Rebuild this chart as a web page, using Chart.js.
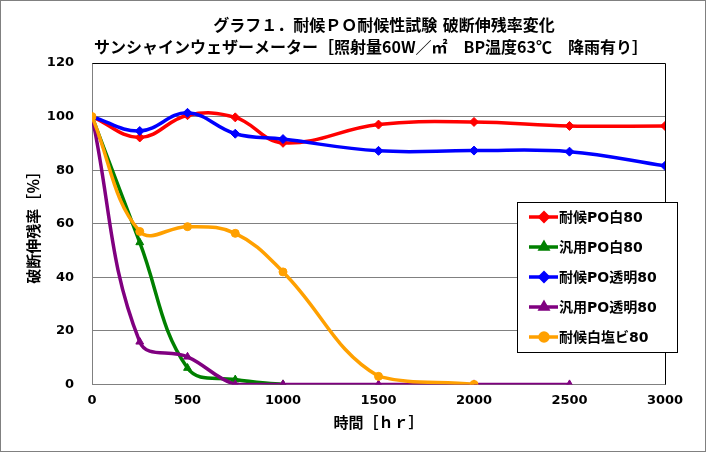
<!DOCTYPE html>
<html>
<head>
<meta charset="utf-8">
<script src="https://cdn.jsdelivr.net/npm/chart.js@4.4.0/dist/chart.umd.min.js"></script>
<style>
  html, body { margin: 0; padding: 0; background: #fff; }
  #wrap { width: 706px; height: 452px; position: relative; }
</style>
</head>
<body>
<div id="wrap"><canvas id="grafico" width="706" height="452"></canvas></div>
<script>
// dados
const horas = [0, 250, 500, 750, 1000, 1500, 2000, 2500, 3000];
const ticksY = [0, 20, 40, 60, 80, 100, 120];

const titulo1 = 'グラフ１．耐候ＰＯ耐候性試験 破断伸残率変化';
const titulo2 = 'サンシャインウェザーメーター［照射量60W／㎡　BP温度63℃　降雨有り］';

const nomes = ['耐候PO白80', '汎用PO白80', '耐候PO透明80', '汎用PO透明80', '耐候白塩ビ80'];
const cores = ['#ff0000', '#008000', '#0000ff', '#800080', '#ffa000'];
const marcadores = ['rectRot', 'triangle', 'rectRot', 'triangle', 'circle'];

const taiPoShiro = [100, 92.2, 100.5, 99.7, 90.2, 97.0, 98.0, 96.5, 96.5];
const hanPoShiro = [100, 53.0, 6.1, 1.8, 0];
const taiPoTomei = [100, 94.6, 101.4, 93.6, 91.6, 87.2, 87.3, 86.9, 81.6];
const hanPoTomei = [100, 15.9, 10.3, 0, 0, 0, 0, 0];
const taiEnbi = [100, 57.1, 58.9, 56.4, 42.0, 3.0, 0];

const series = [taiPoShiro, hanPoShiro, taiPoTomei, hanPoTomei, taiEnbi];

const fonte = '"DejaVu Sans", "Noto Sans CJK JP", sans-serif';
const fonteJp = '"Noto Sans CJK JP", "DejaVu Sans", sans-serif';

// =========================================
// plugin: título, molduras, legenda interna
// =========================================
const molduras = {
    id: 'molduras',
    beforeDraw(chart) {
        const c = chart.ctx;
        c.save();
        c.fillStyle = '#fff';
        c.fillRect(0, 0, chart.width, chart.height);
        c.restore();
    },
    afterDraw(chart) {
        const c = chart.ctx;
        const a = chart.chartArea;
        c.save();
        // título em duas linhas
        c.fillStyle = '#000';
        c.textAlign = 'center';
        c.textBaseline = 'middle';
        c.font = 'bold 16px ' + fonte;
        c.fillText(titulo1, 384, 27);
        c.font = 'bold 16px ' + fonteJp;
        c.fillText(titulo2, 371, 47);

        // linhas pretas topo / direita
        c.strokeStyle = '#000';
        c.lineWidth = 1;
        c.beginPath();
        c.moveTo(Math.round(a.left) + 0.5, Math.round(a.top) + 0.5);
        c.lineTo(Math.round(a.right) + 0.5, Math.round(a.top) + 0.5);
        c.lineTo(Math.round(a.right) + 0.5, Math.round(a.bottom) + 0.5);
        c.stroke();

        // legenda
        const lx = 517, ly = 202, lw = 160, lh = 150;
        c.fillStyle = '#fff';
        c.fillRect(lx, ly, lw, lh);
        c.strokeStyle = '#000';
        c.strokeRect(lx + 0.5, ly + 0.5, lw, lh);
        c.font = 'bold 14px ' + fonte;
        c.textAlign = 'left';
        nomes.forEach((nome, i) => {
            const y = ly + 15 + i * 30;
            c.strokeStyle = cores[i];
            c.lineWidth = 3.5;
            c.beginPath();
            c.moveTo(lx + 12, y);
            c.lineTo(lx + 41, y);
            c.stroke();
            Chart.helpers.drawPoint(c, {
                pointStyle: marcadores[i], radius: 4, rotation: 0, borderWidth: 1
            }, lx + 27, y);
            c.fillStyle = cores[i];
            c.fill();
            c.fillStyle = '#000';
            c.fillText(nome, lx + 42, y + 1);
        });

        // moldura exterior
        c.strokeStyle = '#808080';
        c.lineWidth = 1;
        c.strokeRect(0.5, 0.5, chart.width - 1, chart.height - 1);
        c.restore();
    }
};

const ctx = document.getElementById('grafico').getContext('2d');

const grafico = new Chart(ctx, {
    type: 'line',
    data: {
        datasets: series.map((valores, i) => ({
            label: nomes[i],
            data: valores.map((v, k) => ({ x: horas[k], y: v })),
            borderColor: cores[i],
            backgroundColor: cores[i],
            borderWidth: 3.5,
            pointStyle: marcadores[i],
            pointRadius: marcadores[i] === 'circle' ? 4 : 4.5,
            pointBorderWidth: 1,
            tension: 0.4,
            fill: false
        })).reverse()
    },
    options: {
        responsive: false,
        animation: false,
        layout: { padding: { left: 6, right: 41, top: 63, bottom: 24 } },
        plugins: {
            legend: { display: false },
            tooltip: { enabled: false },
            title: { display: false }
        },
        scales: {
            x: {
                type: 'linear',
                min: 0, max: 3000,
                ticks: {
                    stepSize: 500, color: '#000', padding: 8,
                    font: { family: fonte, size: 13, weight: 'bold' },
                    callback: (v) => String(v)
                },
                grid: { display: false, drawTicks: false },
                border: { color: '#808080' },
                title: {
                    display: true, text: '時間［ｈｒ］', color: '#000',
                    font: { family: fonteJp, size: 15, weight: 'bold', lineHeight: 0.8 },
                    padding: { top: 0, bottom: 0 }
                }
            },
            y: {
                min: 0, max: 120,
                afterBuildTicks: (eixo) => { eixo.ticks = ticksY.map(v => ({ value: v })); },
                ticks: {
                    color: '#000', padding: 18,
                    font: { family: fonte, size: 13, weight: 'bold' }
                },
                grid: { color: '#808080', drawTicks: false },
                border: { color: '#808080' },
                title: {
                    display: true, text: '破断伸残率［％］', color: '#000',
                    font: { family: fonteJp, size: 15, weight: 'bold' },
                    padding: { top: 18, bottom: 0 }
                },
                afterFit: (eixo) => { eixo.width = 86; }
            }
        }
    },
    plugins: [molduras]
});
</script>
</body>
</html>
